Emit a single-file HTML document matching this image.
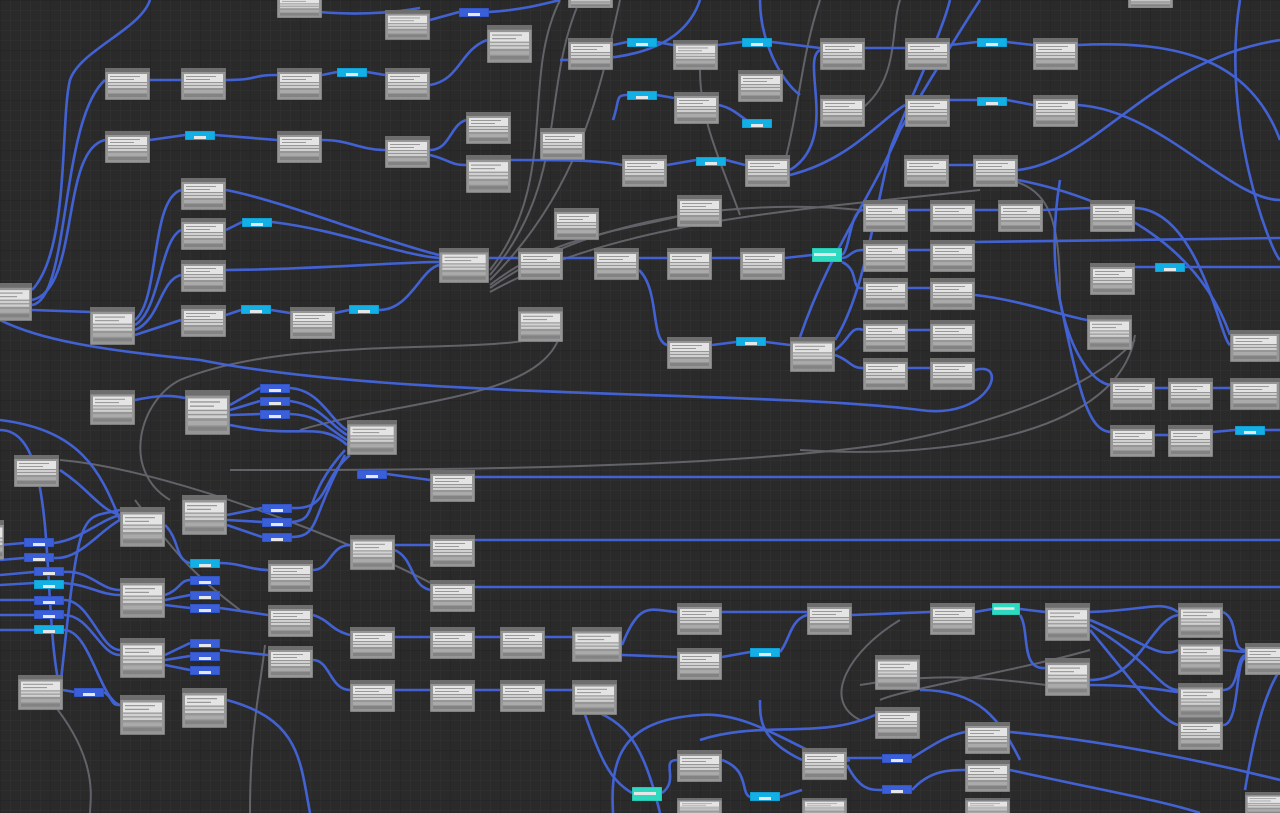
<!DOCTYPE html>
<html><head><meta charset="utf-8"><style>
html,body{margin:0;padding:0;background:#2a2a2a;overflow:hidden}
svg{display:block}
text{font-family:"Liberation Sans",sans-serif}
</style></head><body>
<svg width="1280" height="813" viewBox="0 0 1280 813" xmlns="http://www.w3.org/2000/svg">
<defs>
<pattern id="g1" width="10" height="10" patternUnits="userSpaceOnUse"><path d="M10 0H0V10" fill="none" stroke="#343434" stroke-width="1"/></pattern>
<pattern id="g2" width="50" height="50" patternUnits="userSpaceOnUse"><path d="M50 0H0V50" fill="none" stroke="#232323" stroke-width="1"/></pattern>
<symbol id="n" viewBox="0 0 45 32" preserveAspectRatio="none">
<rect x="0" y="0" width="45" height="32" fill="#969696" stroke="#505050" stroke-width=".6"/>
<rect x="0" y="0" width="45" height="4" fill="#6e6e6e"/>
<rect x="3" y="6" width="39" height="8" fill="#e4e4e4"/>
<rect x="5" y="8" width="30" height="1" fill="#999"/>
<rect x="5" y="11" width="24" height="1" fill="#999"/>
<rect x="3" y="15" width="39" height="2" fill="#d0d0d0"/>
<rect x="3" y="18" width="39" height="2" fill="#d0d0d0"/>
<rect x="3" y="22" width="39" height="3" fill="#aaa"/>
<rect x="3" y="26" width="39" height="3" fill="#838383"/>
</symbol>
<symbol id="b" viewBox="0 0 30 9" preserveAspectRatio="none">
<rect width="30" height="9" fill="#3a5fd8" stroke="#2440a0" stroke-width=".6"/>
<rect x="9" y="5" width="12" height="3" fill="#e6e6e6"/>
</symbol>
<symbol id="c" viewBox="0 0 30 9" preserveAspectRatio="none">
<rect width="30" height="9" fill="#13b0e6" stroke="#0a7ea8" stroke-width=".6"/>
<rect x="9" y="5" width="12" height="3" fill="#e6e6e6"/>
</symbol>
<symbol id="t" viewBox="0 0 30 14" preserveAspectRatio="none">
<rect width="30" height="14" fill="#2fd9c0" stroke="#16a090" stroke-width=".6"/>
<rect x="2" y="5" width="22" height="3" fill="#e6e6e6"/>
</symbol>
</defs>
<rect width="1280" height="813" fill="#2a2a2a"/>
<rect width="1280" height="813" fill="url(#g1)"/>
<rect width="1280" height="813" fill="url(#g2)"/>

<g fill="none" stroke="#6c6c74" stroke-width="2" opacity=".85">
<path d="M490 270C560 180 520 80 560 0"/>
<path d="M490 275C570 180 540 90 580 0"/>
<path d="M490 280C580 190 600 90 620 0"/>
<path d="M490 285C560 230 640 230 700 210"/>
<path d="M490 288C600 210 760 200 860 210"/>
<path d="M490 292C620 220 800 210 980 190"/>
<path d="M560 330C520 360 300 330 180 380C140 400 120 470 170 500"/>
<path d="M560 335C540 400 400 400 300 430"/>
<path d="M1135 340C1100 380 1020 420 880 445C700 470 400 470 230 470"/>
<path d="M1135 335C1120 430 960 460 800 450"/>
<path d="M135 500C180 560 200 580 240 610"/>
<path d="M60 460C180 470 400 560 460 600"/>
<path d="M740 215C720 160 700 120 700 70"/>
<path d="M780 180C800 110 800 60 820 0"/>
<path d="M1010 180C1050 190 1060 220 1060 300"/>
<path d="M860 110C900 80 890 30 900 0"/>
<path d="M900 620C850 650 820 700 860 720"/>
<path d="M1090 650C1020 670 900 690 880 700"/>
<path d="M860 685C950 670 1000 680 1090 690"/>
<path d="M265 645C260 690 250 730 250 813"/>
<path d="M50 700C100 760 90 800 90 813"/>
</g>

<g fill="none" stroke="#4466dd" stroke-width="2.6" opacity=".95">
<path d="M32 305C70 300 60 120 105 80"/>
<path d="M32 300C80 290 60 150 105 140"/>
<path d="M32 310L90 312"/>
<path d="M150 80L181 80"/>
<path d="M150 140L185 135"/>
<path d="M215 135L277 140"/>
<path d="M226 80C260 80 250 75 277 75"/>
<path d="M322 75L337 72"/>
<path d="M367 72L385 75"/>
<path d="M322 140C350 140 360 150 385 150"/>
<path d="M430 85C460 80 460 50 487 40"/>
<path d="M430 150C450 150 450 125 466 120"/>
<path d="M430 155C450 160 450 165 466 165"/>
<path d="M430 20L459 12"/>
<path d="M489 12C520 10 540 5 560 0"/>
<path d="M613 45L627 42"/>
<path d="M657 42L673 45"/>
<path d="M718 45L742 42"/>
<path d="M772 42L820 48"/>
<path d="M865 48L905 48"/>
<path d="M950 45L977 42"/>
<path d="M1007 42L1033 45"/>
<path d="M1078 45C1180 40 1250 60 1280 140"/>
<path d="M950 100L977 100"/>
<path d="M1007 100L1033 105"/>
<path d="M1078 105C1160 110 1230 200 1280 200"/>
<path d="M613 120C620 100 615 95 627 95"/>
<path d="M657 95L674 98"/>
<path d="M719 105C740 110 745 125 757 122"/>
<path d="M511 160C560 160 600 160 622 165"/>
<path d="M667 165L696 160"/>
<path d="M726 160L745 165"/>
<path d="M790 170C840 140 800 60 820 50"/>
<path d="M790 175C850 160 880 120 905 105"/>
<path d="M949 165L973 165"/>
<path d="M1018 170C1100 160 1150 60 1280 40"/>
<path d="M1018 180C1120 200 1200 250 1230 335"/>
<path d="M226 190C280 200 380 240 439 255"/>
<path d="M226 230L242 222"/>
<path d="M272 222C340 230 400 255 439 258"/>
<path d="M226 270C300 270 400 262 439 262"/>
<path d="M226 315L241 310"/>
<path d="M271 310L290 313"/>
<path d="M335 313L349 310"/>
<path d="M379 310C410 310 420 270 439 265"/>
<path d="M135 320C160 300 150 200 181 190"/>
<path d="M135 325C160 310 160 240 181 230"/>
<path d="M135 330C160 320 160 280 181 275"/>
<path d="M135 335L181 320"/>
<path d="M489 258L518 258"/>
<path d="M563 258L594 258"/>
<path d="M639 258L667 258"/>
<path d="M712 258L740 258"/>
<path d="M785 258L812 255"/>
<path d="M842 255C850 250 850 210 863 210"/>
<path d="M842 258C850 258 850 250 863 250"/>
<path d="M842 262C860 270 850 290 863 288"/>
<path d="M639 270C660 290 650 340 667 345"/>
<path d="M712 345L736 342"/>
<path d="M766 342L790 345"/>
<path d="M800 337C830 250 870 200 900 130C930 80 960 30 980 0"/>
<path d="M835 350C850 340 850 325 863 330"/>
<path d="M835 355C850 360 850 368 863 368"/>
<path d="M908 210L930 210"/>
<path d="M908 250L930 250"/>
<path d="M908 288L930 288"/>
<path d="M908 330L930 330"/>
<path d="M908 368L930 368"/>
<path d="M975 210L998 210"/>
<path d="M1043 210L1090 208"/>
<path d="M975 242C1100 240 1200 240 1280 238"/>
<path d="M1135 267L1155 267"/>
<path d="M1185 267L1280 267"/>
<path d="M975 295C1020 300 1060 315 1087 320"/>
<path d="M1135 208C1200 210 1220 340 1230 345"/>
<path d="M975 370C1010 360 990 420 920 410C760 390 400 400 200 360C100 350 40 340 0 320"/>
<path d="M1155 388L1168 388"/>
<path d="M1213 388L1230 388"/>
<path d="M1155 435L1168 435"/>
<path d="M1213 432L1235 430"/>
<path d="M1265 430L1280 430"/>
<path d="M1060 180C1040 300 1080 380 1110 385"/>
<path d="M1060 300C1080 400 1090 430 1110 432"/>
<path d="M1240 0C1220 120 1270 250 1280 260"/>
<path d="M0 430C60 430 40 600 60 690"/>
<path d="M135 400C160 395 170 395 185 398"/>
<path d="M230 405L260 388"/>
<path d="M230 410L260 401"/>
<path d="M230 415L260 414"/>
<path d="M290 388C320 390 330 420 347 430"/>
<path d="M290 401C320 405 330 425 347 435"/>
<path d="M290 414C320 415 330 430 347 440"/>
<path d="M230 425C300 440 320 420 347 445"/>
<path d="M350 455C320 480 330 510 292 508"/>
<path d="M345 450C300 500 320 520 292 522"/>
<path d="M345 455C310 520 320 536 292 537"/>
<path d="M387 474L430 480"/>
<path d="M475 477L1280 477"/>
<path d="M0 420C80 430 100 470 120 520"/>
<path d="M227 515L262 508"/>
<path d="M227 520L262 522"/>
<path d="M227 525L262 537"/>
<path d="M60 470C90 490 100 510 120 515"/>
<path d="M54 543C80 540 100 520 120 515"/>
<path d="M54 558C80 560 100 530 120 520"/>
<path d="M64 572C90 570 100 590 120 590"/>
<path d="M64 583C90 585 100 595 120 595"/>
<path d="M64 600C90 600 100 650 120 650"/>
<path d="M64 615C90 615 100 655 120 655"/>
<path d="M64 630C90 630 100 700 120 705"/>
<path d="M0 545L24 543"/>
<path d="M0 560L24 558"/>
<path d="M0 575L34 572"/>
<path d="M0 585L34 583"/>
<path d="M0 600L34 600"/>
<path d="M0 615L34 615"/>
<path d="M0 630L34 630"/>
<path d="M60 690C80 500 80 520 120 510"/>
<path d="M165 525C180 540 175 560 190 563"/>
<path d="M220 563C240 563 250 570 268 570"/>
<path d="M165 595C180 590 180 580 190 580"/>
<path d="M165 600L190 595"/>
<path d="M165 605L190 608"/>
<path d="M220 608L268 615"/>
<path d="M165 655L190 643"/>
<path d="M165 660L190 656"/>
<path d="M165 665L190 670"/>
<path d="M220 650L268 655"/>
<path d="M313 570C330 570 330 545 350 545"/>
<path d="M395 545L430 545"/>
<path d="M475 540L1280 540"/>
<path d="M395 550C415 560 410 585 430 590"/>
<path d="M475 587L1280 587"/>
<path d="M313 615C330 620 330 630 350 635"/>
<path d="M313 660C330 660 330 690 350 690"/>
<path d="M395 637L430 637"/>
<path d="M475 637L500 637"/>
<path d="M545 637L572 637"/>
<path d="M395 690L430 690"/>
<path d="M475 690L500 690"/>
<path d="M545 690L572 690"/>
<path d="M63 690L74 692"/>
<path d="M104 692C115 700 110 705 120 705"/>
<path d="M227 700C300 720 300 760 310 813"/>
<path d="M622 645C640 600 650 610 677 612"/>
<path d="M622 655L677 657"/>
<path d="M722 612L807 612"/>
<path d="M722 657L750 652"/>
<path d="M780 652C790 640 790 620 807 615"/>
<path d="M852 615L930 612"/>
<path d="M975 612L992 609"/>
<path d="M1020 609L1045 612"/>
<path d="M1020 615C1030 630 1020 670 1045 668"/>
<path d="M1090 612C1150 610 1160 600 1178 612"/>
<path d="M1090 620C1140 640 1160 660 1178 650"/>
<path d="M1090 625C1150 660 1160 690 1178 690"/>
<path d="M1090 630C1140 690 1160 720 1178 725"/>
<path d="M1090 680C1140 680 1150 620 1178 615"/>
<path d="M1090 685C1140 685 1160 690 1178 692"/>
<path d="M1223 612C1240 620 1230 650 1245 650"/>
<path d="M1223 650L1245 652"/>
<path d="M1223 690C1240 690 1235 660 1245 655"/>
<path d="M1223 725C1240 725 1235 660 1245 658"/>
<path d="M613 813C610 760 620 720 700 715C760 710 820 770 850 760"/>
<path d="M580 700C600 760 610 780 632 793"/>
<path d="M580 705C620 720 640 730 660 813"/>
<path d="M662 793C680 780 660 760 677 760"/>
<path d="M722 760C750 770 740 793 750 797"/>
<path d="M780 797L802 790"/>
<path d="M802 760C760 740 760 720 760 700"/>
<path d="M847 758L882 758"/>
<path d="M847 765C860 790 870 790 882 790"/>
<path d="M912 758C940 740 950 735 965 732"/>
<path d="M912 790C930 770 950 770 965 770"/>
<path d="M1010 732C1100 740 1200 760 1280 780"/>
<path d="M1010 770C1100 790 1160 800 1200 813"/>
<path d="M920 690C980 690 1000 720 1020 760"/>
<path d="M700 740C760 720 820 740 875 715"/>
<path d="M1280 670C1260 700 1250 760 1245 790"/>
<path d="M150 0C140 30 80 50 70 80C60 120 70 250 32 290"/>
<path d="M700 0C680 60 600 60 560 60"/>
<path d="M300 10C340 15 380 15 420 8"/>
<path d="M760 0C760 40 780 80 800 95"/>
<path d="M950 0C940 40 900 120 890 150C870 240 860 300 835 340"/>
</g>

<g>
<use href="#n" x="277" y="-8" width="45" height="26"/>
<use href="#n" x="385" y="10" width="45" height="30"/>
<use href="#n" x="487" y="25" width="45" height="38"/>
<use href="#n" x="568" y="-10" width="45" height="18"/>
<use href="#n" x="568" y="38" width="45" height="32"/>
<use href="#n" x="673" y="40" width="45" height="30"/>
<use href="#n" x="820" y="38" width="45" height="32"/>
<use href="#n" x="905" y="38" width="45" height="32"/>
<use href="#n" x="1033" y="38" width="45" height="32"/>
<use href="#n" x="1128" y="-10" width="45" height="18"/>
<use href="#n" x="105" y="68" width="45" height="32"/>
<use href="#n" x="181" y="68" width="45" height="32"/>
<use href="#n" x="277" y="68" width="45" height="32"/>
<use href="#n" x="385" y="68" width="45" height="32"/>
<use href="#n" x="738" y="70" width="45" height="32"/>
<use href="#n" x="674" y="92" width="45" height="32"/>
<use href="#n" x="820" y="95" width="45" height="32"/>
<use href="#n" x="905" y="95" width="45" height="32"/>
<use href="#n" x="1033" y="95" width="45" height="32"/>
<use href="#n" x="105" y="131" width="45" height="32"/>
<use href="#n" x="277" y="131" width="45" height="32"/>
<use href="#n" x="385" y="136" width="45" height="32"/>
<use href="#n" x="466" y="112" width="45" height="32"/>
<use href="#n" x="540" y="128" width="45" height="32"/>
<use href="#n" x="466" y="155" width="45" height="38"/>
<use href="#n" x="622" y="155" width="45" height="32"/>
<use href="#n" x="745" y="155" width="45" height="32"/>
<use href="#n" x="904" y="155" width="45" height="32"/>
<use href="#n" x="973" y="155" width="45" height="32"/>
<use href="#n" x="181" y="178" width="45" height="32"/>
<use href="#n" x="181" y="218" width="45" height="32"/>
<use href="#n" x="181" y="260" width="45" height="32"/>
<use href="#n" x="181" y="305" width="45" height="32"/>
<use href="#n" x="554" y="208" width="45" height="32"/>
<use href="#n" x="677" y="195" width="45" height="32"/>
<use href="#n" x="863" y="200" width="45" height="32"/>
<use href="#n" x="930" y="200" width="45" height="32"/>
<use href="#n" x="998" y="200" width="45" height="32"/>
<use href="#n" x="1090" y="200" width="45" height="32"/>
<use href="#n" x="439" y="248" width="50" height="35"/>
<use href="#n" x="518" y="248" width="45" height="32"/>
<use href="#n" x="594" y="248" width="45" height="32"/>
<use href="#n" x="667" y="248" width="45" height="32"/>
<use href="#n" x="740" y="248" width="45" height="32"/>
<use href="#n" x="863" y="240" width="45" height="32"/>
<use href="#n" x="930" y="240" width="45" height="32"/>
<use href="#n" x="863" y="278" width="45" height="32"/>
<use href="#n" x="930" y="278" width="45" height="32"/>
<use href="#n" x="1090" y="263" width="45" height="32"/>
<use href="#n" x="-10" y="283" width="42" height="38"/>
<use href="#n" x="90" y="307" width="45" height="38"/>
<use href="#n" x="290" y="307" width="45" height="32"/>
<use href="#n" x="518" y="307" width="45" height="35"/>
<use href="#n" x="667" y="337" width="45" height="32"/>
<use href="#n" x="790" y="337" width="45" height="35"/>
<use href="#n" x="863" y="320" width="45" height="32"/>
<use href="#n" x="930" y="320" width="45" height="32"/>
<use href="#n" x="1087" y="315" width="45" height="35"/>
<use href="#n" x="1230" y="330" width="50" height="32"/>
<use href="#n" x="863" y="358" width="45" height="32"/>
<use href="#n" x="930" y="358" width="45" height="32"/>
<use href="#n" x="1110" y="378" width="45" height="32"/>
<use href="#n" x="1168" y="378" width="45" height="32"/>
<use href="#n" x="1230" y="378" width="50" height="32"/>
<use href="#n" x="90" y="390" width="45" height="35"/>
<use href="#n" x="185" y="390" width="45" height="45"/>
<use href="#n" x="347" y="420" width="50" height="35"/>
<use href="#n" x="1110" y="425" width="45" height="32"/>
<use href="#n" x="1168" y="425" width="45" height="32"/>
<use href="#n" x="14" y="455" width="45" height="32"/>
<use href="#n" x="430" y="470" width="45" height="32"/>
<use href="#n" x="182" y="495" width="45" height="40"/>
<use href="#n" x="120" y="507" width="45" height="40"/>
<use href="#n" x="-20" y="520" width="24" height="40"/>
<use href="#n" x="350" y="535" width="45" height="35"/>
<use href="#n" x="430" y="535" width="45" height="32"/>
<use href="#n" x="268" y="560" width="45" height="32"/>
<use href="#n" x="430" y="580" width="45" height="32"/>
<use href="#n" x="120" y="578" width="45" height="40"/>
<use href="#n" x="268" y="605" width="45" height="32"/>
<use href="#n" x="268" y="646" width="45" height="32"/>
<use href="#n" x="120" y="638" width="45" height="40"/>
<use href="#n" x="350" y="627" width="45" height="32"/>
<use href="#n" x="430" y="627" width="45" height="32"/>
<use href="#n" x="500" y="627" width="45" height="32"/>
<use href="#n" x="572" y="627" width="50" height="35"/>
<use href="#n" x="677" y="603" width="45" height="32"/>
<use href="#n" x="807" y="603" width="45" height="32"/>
<use href="#n" x="930" y="603" width="45" height="32"/>
<use href="#n" x="1045" y="603" width="45" height="38"/>
<use href="#n" x="1178" y="603" width="45" height="35"/>
<use href="#n" x="677" y="648" width="45" height="32"/>
<use href="#n" x="875" y="655" width="45" height="35"/>
<use href="#n" x="1045" y="658" width="45" height="38"/>
<use href="#n" x="1245" y="643" width="40" height="32"/>
<use href="#n" x="1178" y="640" width="45" height="35"/>
<use href="#n" x="182" y="688" width="45" height="40"/>
<use href="#n" x="18" y="675" width="45" height="35"/>
<use href="#n" x="120" y="695" width="45" height="40"/>
<use href="#n" x="350" y="680" width="45" height="32"/>
<use href="#n" x="430" y="680" width="45" height="32"/>
<use href="#n" x="500" y="680" width="45" height="32"/>
<use href="#n" x="572" y="680" width="45" height="35"/>
<use href="#n" x="875" y="707" width="45" height="32"/>
<use href="#n" x="1178" y="683" width="45" height="35"/>
<use href="#n" x="1178" y="718" width="45" height="32"/>
<use href="#n" x="965" y="722" width="45" height="32"/>
<use href="#n" x="677" y="750" width="45" height="32"/>
<use href="#n" x="802" y="748" width="45" height="32"/>
<use href="#n" x="965" y="760" width="45" height="32"/>
<use href="#n" x="965" y="798" width="45" height="20"/>
<use href="#n" x="677" y="798" width="45" height="20"/>
<use href="#n" x="802" y="798" width="45" height="20"/>
<use href="#n" x="1245" y="792" width="40" height="25"/>
</g>

<g>
<use href="#c" x="337" y="68" width="30" height="9"/>
<use href="#c" x="185" y="131" width="30" height="9"/>
<use href="#c" x="242" y="218" width="30" height="9"/>
<use href="#c" x="241" y="305" width="30" height="9"/>
<use href="#c" x="349" y="305" width="30" height="9"/>
<use href="#b" x="459" y="8" width="30" height="9"/>
<use href="#c" x="627" y="38" width="30" height="9"/>
<use href="#c" x="742" y="38" width="30" height="9"/>
<use href="#c" x="977" y="38" width="30" height="9"/>
<use href="#c" x="627" y="91" width="30" height="9"/>
<use href="#c" x="742" y="119" width="30" height="9"/>
<use href="#c" x="696" y="157" width="30" height="9"/>
<use href="#c" x="977" y="97" width="30" height="9"/>
<use href="#c" x="1155" y="263" width="30" height="9"/>
<use href="#c" x="1235" y="426" width="30" height="9"/>
<use href="#c" x="736" y="337" width="30" height="9"/>
<use href="#b" x="260" y="384" width="30" height="9"/>
<use href="#b" x="260" y="397" width="30" height="9"/>
<use href="#b" x="260" y="410" width="30" height="9"/>
<use href="#b" x="357" y="470" width="30" height="9"/>
<use href="#b" x="262" y="504" width="30" height="9"/>
<use href="#b" x="262" y="518" width="30" height="9"/>
<use href="#b" x="262" y="533" width="30" height="9"/>
<use href="#c" x="190" y="559" width="30" height="9"/>
<use href="#b" x="190" y="576" width="30" height="9"/>
<use href="#b" x="190" y="591" width="30" height="9"/>
<use href="#b" x="190" y="604" width="30" height="9"/>
<use href="#b" x="190" y="639" width="30" height="9"/>
<use href="#b" x="190" y="652" width="30" height="9"/>
<use href="#b" x="190" y="666" width="30" height="9"/>
<use href="#b" x="24" y="538" width="30" height="9"/>
<use href="#b" x="24" y="553" width="30" height="9"/>
<use href="#b" x="34" y="567" width="30" height="9"/>
<use href="#c" x="34" y="580" width="30" height="9"/>
<use href="#b" x="34" y="596" width="30" height="9"/>
<use href="#b" x="34" y="610" width="30" height="9"/>
<use href="#c" x="34" y="625" width="30" height="9"/>
<use href="#b" x="74" y="688" width="30" height="9"/>
<use href="#c" x="750" y="648" width="30" height="9"/>
<use href="#b" x="882" y="754" width="30" height="9"/>
<use href="#b" x="882" y="785" width="30" height="9"/>
<use href="#c" x="750" y="792" width="30" height="9"/>
<use href="#t" x="812" y="248" width="30" height="14"/>
<use href="#t" x="992" y="603" width="28" height="12"/>
<use href="#t" x="632" y="787" width="30" height="14"/>
</g>
<text x="0" y="-5" font-size="4" fill="#ccc">Description</text>
</svg>
</body></html>
